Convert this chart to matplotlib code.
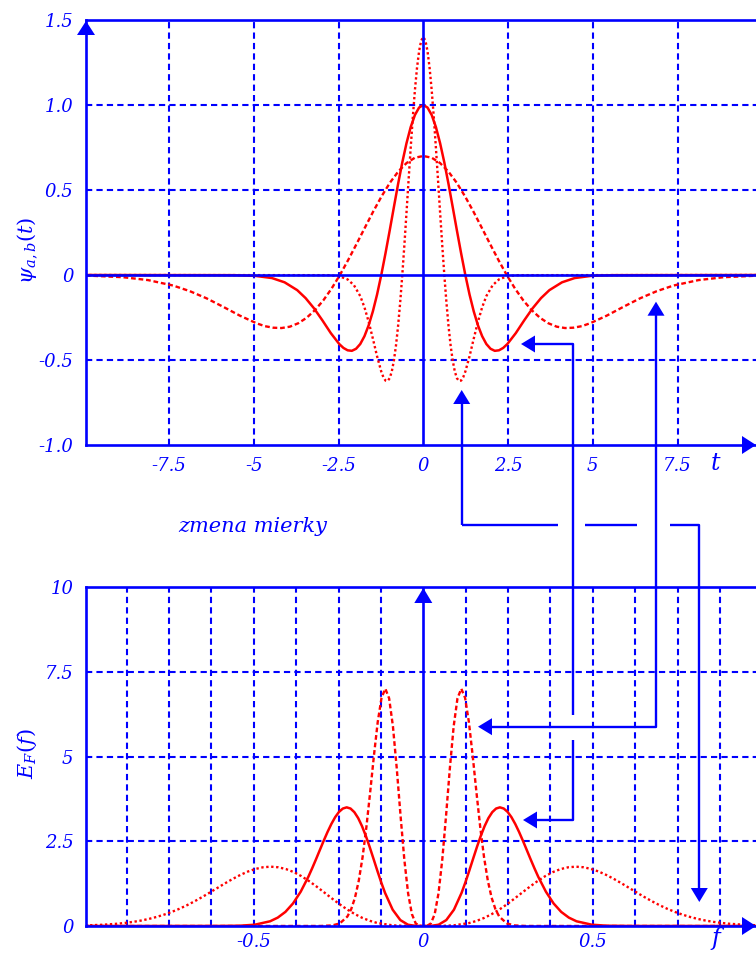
import numpy as np
import matplotlib
matplotlib.use("Agg")
import matplotlib.pyplot as plt

plt.rcParams["mathtext.fontset"] = "dejavuserif"
plt.rcParams["axes.unicode_minus"] = False

BLUE = "#0000ff"
RED = "#ff0000"
W, H = 756, 956

# wavelet psi_{a,b}(t): right half only, every curve is even in t
t_solid = [0, 0.124, 0.248, 0.372, 0.496, 0.62, 0.744, 0.868, 0.992, 1.116, 1.24,
           1.364, 1.488, 1.612, 1.736, 1.86, 1.984, 2.108, 2.232, 2.356, 2.48,
           2.728, 2.976, 3.224, 3.472, 3.72, 4.092, 4.464, 4.96, 5.58, 10.0]
psi_solid = [1.0, 0.985, 0.941, 0.870, 0.775, 0.662, 0.535, 0.399, 0.261, 0.127, 0.0,
             -0.115, -0.214, -0.296, -0.360, -0.406, -0.434, -0.446, -0.443, -0.429, -0.406,
             -0.342, -0.267, -0.196, -0.136, -0.089, -0.043, -0.018, -0.005, -0.001, 0.0]

t_dotted = [0, 0.062, 0.124, 0.186, 0.248, 0.31, 0.372, 0.434, 0.496, 0.558, 0.62,
            0.682, 0.744, 0.806, 0.868, 0.93, 0.992, 1.054, 1.116, 1.178, 1.24,
            1.364, 1.488, 1.612, 1.736, 1.86, 2.046, 2.232, 2.48, 2.79, 10.0]
psi_dotted = [1.40, 1.379, 1.317, 1.218, 1.086, 0.927, 0.748, 0.559, 0.366, 0.177, 0.0,
              -0.161, -0.300, -0.415, -0.504, -0.568, -0.607, -0.624, -0.621, -0.601, -0.568,
              -0.478, -0.374, -0.275, -0.190, -0.124, -0.060, -0.026, -0.007, -0.001, 0.0]

t_dashed = [0, 0.246, 0.492, 0.738, 0.984, 1.23, 1.476, 1.722, 1.968, 2.214, 2.46,
            2.706, 2.952, 3.198, 3.444, 3.69, 3.936, 4.182, 4.428, 4.674, 4.92,
            5.412, 5.904, 6.396, 6.888, 7.38, 8.118, 8.856, 9.84, 11.07]
psi_dashed = [0.70, 0.690, 0.659, 0.609, 0.543, 0.463, 0.374, 0.279, 0.183, 0.089, 0.0,
              -0.080, -0.150, -0.207, -0.252, -0.284, -0.304, -0.312, -0.310, -0.301, -0.284,
              -0.239, -0.187, -0.137, -0.095, -0.062, -0.030, -0.013, -0.004, -0.001]

# energy spectrum E_F(f): right half only
f_solid = [0, 0.0226, 0.0452, 0.0678, 0.0904, 0.113, 0.1243, 0.1356, 0.1469, 0.1582,
           0.1695, 0.1808, 0.1921, 0.2034, 0.2147, 0.226, 0.2373, 0.2486, 0.2599, 0.2712,
           0.2825, 0.2938, 0.3051, 0.3164, 0.3277, 0.339, 0.3616, 0.3842, 0.4068, 0.4294,
           0.452, 0.4972, 0.5424, 0.6102, 1.0]
E_solid = [0, 0.003, 0.038, 0.175, 0.481, 0.980, 1.292, 1.631, 1.983, 2.330,
           2.657, 2.945, 3.183, 3.358, 3.465, 3.50, 3.465, 3.367, 3.212, 3.010,
           2.774, 2.515, 2.244, 1.971, 1.706, 1.454, 1.013, 0.667, 0.416, 0.247,
           0.139, 0.038, 0.008, 0.001, 0]

f_dashed = [0, 0.0112, 0.0224, 0.0336, 0.0448, 0.056, 0.0672, 0.0784, 0.0896, 0.1008, 0.112,
            0.1232, 0.1344, 0.1456, 0.1568, 0.168, 0.1792, 0.1904, 0.2016, 0.2128, 0.224,
            0.2464, 0.2688, 0.3024, 1.0]
E_dashed = [0, 0.005, 0.076, 0.350, 0.962, 1.961, 3.263, 4.661, 5.891, 6.716, 7.0,
            6.733, 6.021, 5.030, 3.942, 2.909, 2.026, 1.334, 0.832, 0.494, 0.278,
            0.076, 0.017, 0.001, 0]

f_dotted = [0, 0.045, 0.09, 0.135, 0.1575, 0.18, 0.2025, 0.225, 0.2475, 0.27,
            0.2925, 0.315, 0.3375, 0.36, 0.3825, 0.405, 0.4275, 0.45, 0.4725, 0.495,
            0.5175, 0.54, 0.5625, 0.585, 0.6075, 0.63, 0.6525, 0.675, 0.6975, 0.72,
            0.7425, 0.765, 0.7875, 0.81, 0.8325, 0.855, 0.8775, 0.9, 0.945, 0.99,
            1.035, 1.1]
E_dotted = [0, 0.001, 0.019, 0.087, 0.152, 0.240, 0.354, 0.490, 0.646, 0.816,
            0.992, 1.165, 1.328, 1.473, 1.591, 1.679, 1.732, 1.75, 1.733, 1.683,
            1.606, 1.505, 1.387, 1.258, 1.122, 0.986, 0.853, 0.727, 0.611, 0.506,
            0.414, 0.334, 0.265, 0.208, 0.161, 0.123, 0.093, 0.069, 0.037, 0.019,
            0.009, 0.002]

# ticks / grid
t_ticks = [-7.5, -5, -2.5, 0, 2.5, 5, 7.5]
t_ticklabels = ["-7.5", "-5", "-2.5", "0", "2.5", "5", "7.5"]
psi_ticks = [-1.0, -0.5, 0, 0.5, 1.0, 1.5]
psi_ticklabels = ["-1.0", "-0.5", "0", "0.5", "1.0", "1.5"]
t_grid = [-7.5, -5, -2.5, 2.5, 5, 7.5]
psi_grid = [-0.5, 0.5, 1.0]

f_ticks = [-0.5, 0, 0.5]
f_ticklabels = ["-0.5", "0", "0.5"]
E_ticks = [0, 2.5, 5, 7.5, 10]
E_ticklabels = ["0", "2.5", "5", "7.5", "10"]
f_grid = [-0.875, -0.75, -0.625, -0.5, -0.375, -0.25, -0.125,
          0.125, 0.25, 0.375, 0.5, 0.625, 0.75, 0.875]
E_grid = [2.5, 5, 7.5]


def mirror(x, y):
    x = np.asarray(x, dtype=float)
    y = np.asarray(y, dtype=float)
    return np.concatenate([-x[:0:-1], x]), np.concatenate([y[:0:-1], y])


def px_axes(fig, x0, y0, x1, y1):
    return fig.add_axes([x0 / W, 1 - y1 / H, (x1 - x0) / W, (y1 - y0) / H])


def style_axes(ax, xgrid, ygrid, xpad, ypad):
    for side in ("left", "top", "bottom"):
        ax.spines[side].set_color(BLUE)
        ax.spines[side].set_linewidth(1.9)
    ax.spines["right"].set_visible(False)
    for g in xgrid:
        ax.axvline(g, color=BLUE, lw=1.5, ls=(0, (3, 2)), zorder=1)
    for g in ygrid:
        ax.axhline(g, color=BLUE, lw=1.5, ls=(0, (3, 2)), zorder=1)
    ax.tick_params(length=0, labelcolor=BLUE)
    ax.tick_params(axis="x", pad=xpad)
    ax.tick_params(axis="y", pad=ypad)
    for lab in ax.get_xticklabels() + ax.get_yticklabels():
        lab.set_fontfamily("DejaVu Serif")
        lab.set_fontstyle("italic")
        lab.set_fontsize(13)


def curve(ax, x, y, kind):
    styles = {"solid": dict(lw=1.8, ls="-"),
              "dashed": dict(lw=1.7, ls=(0, (2, 1.2))),
              "dotted": dict(lw=1.7, ls=(0, (1, 1.1)))}
    ax.plot(*mirror(x, y), color=RED, zorder=2, solid_joinstyle="round",
            dash_joinstyle="round", **styles[kind])


fig = plt.figure(figsize=(W / 100, H / 100), dpi=100)

# --- top: wavelets
ax1 = px_axes(fig, 86, 20, 762.3, 445)
ax1.set_xlim(-9.95, 10)
ax1.set_ylim(-1.0, 1.5)
ax1.set_xticks(t_ticks, t_ticklabels)
ax1.set_yticks(psi_ticks, psi_ticklabels)
style_axes(ax1, t_grid, psi_grid, 9, 9)
ax1.axhline(0, color=BLUE, lw=1.9, zorder=3)
ax1.axvline(0, color=BLUE, lw=1.9, zorder=3)
curve(ax1, t_dashed, psi_dashed, "dashed")
curve(ax1, t_solid, psi_solid, "solid")
curve(ax1, t_dotted, psi_dotted, "dotted")

# --- bottom: energy spectra
ax2 = px_axes(fig, 86, 587, 762.3, 926)
ax2.set_xlim(-0.995, 1.0)
ax2.set_ylim(0, 10)
ax2.set_xticks(f_ticks, f_ticklabels)
ax2.set_yticks(E_ticks, E_ticklabels)
style_axes(ax2, f_grid, E_grid, 5, 9)
ax2.axvline(0, color=BLUE, lw=1.9, zorder=3)
curve(ax2, f_dotted, E_dotted, "dotted")
curve(ax2, f_solid, E_solid, "solid")
curve(ax2, f_dashed, E_dashed, "dashed")

# --- overlay in pixel coordinates for arrows, connectors and labels
ov = fig.add_axes([0, 0, 1, 1])
ov.set_xlim(0, W)
ov.set_ylim(H, 0)
ov.axis("off")
ov.set_zorder(10)


def head(tip, direction, length=14, width=17):
    x, y = tip
    dx, dy = direction
    bx, by = x - dx * length, y - dy * length
    px, py = -dy * width / 2, dx * width / 2
    ov.fill([x, bx + px, bx - px], [y, by + py, by - py], color=BLUE, lw=0)


def line(*pts):
    xs, ys = zip(*pts)
    ov.plot(xs, ys, color=BLUE, lw=1.7, solid_capstyle="butt")


# axis arrows
head((86, 21), (0, -1), 14, 18)
head((756, 445), (1, 0), 14, 18)
head((423.3, 588), (0, -1), 15, 18)
head((756, 926), (1, 0), 14, 18)

# connector 1: dotted wavelet <-> dotted spectrum
line((461.7, 525), (461.7, 400))
head((461.7, 390), (0, -1))
line((461.7, 525), (558, 525))
line((585, 525), (637, 525))
line((670, 525), (699.3, 525), (699.3, 890))
head((699.3, 902), (0, 1))

# connector 2: solid wavelet <-> solid spectrum
line((532, 344), (572.5, 344), (572.5, 715))
head((521, 344), (-1, 0))
line((572.5, 740), (572.5, 820), (534, 820))
head((523, 820), (-1, 0))

# connector 3: dashed wavelet <-> dashed spectrum
line((656, 312), (656, 726.7), (489, 726.7))
head((656, 301.7), (0, -1))
head((478, 726.7), (-1, 0))

# labels
ov.text(715, 463, "t", color=BLUE, fontsize=17, family="DejaVu Serif",
        style="italic", ha="center", va="center")
ov.text(716, 938, "f", color=BLUE, fontsize=17, family="DejaVu Serif",
        style="italic", ha="center", va="center")
ov.text(253, 527, "zmena mierky", color=BLUE, fontsize=15, family="DejaVu Serif",
        style="italic", ha="center", va="center")
ov.text(27, 250, r"$\psi_{a,b}(t)$", color=BLUE, fontsize=15, rotation=90,
        ha="center", va="center")
ov.text(27, 754, r"$E_F(f)$", color=BLUE, fontsize=15, rotation=90,
        ha="center", va="center")

fig.savefig("out.png", dpi=100)
